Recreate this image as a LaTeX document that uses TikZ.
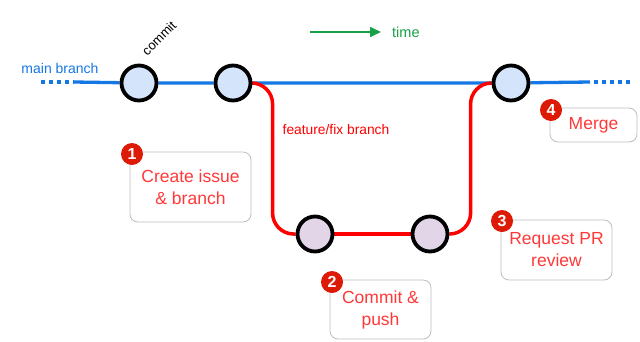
\documentclass[tikz,border=0pt]{standalone}
\usepackage{fontspec}
\setmainfont{Liberation Sans}
\usepackage{tikz}
\usetikzlibrary{arrows.meta,calc,positioning,backgrounds}
\definecolor{Main}{HTML}{1477E3}
\definecolor{Dot}{HTML}{D4E4FA}
\definecolor{Feat}{HTML}{E1D5E7}
\definecolor{Fix}{HTML}{FF0000}
\definecolor{Step}{HTML}{FF3838}
\definecolor{Badge}{HTML}{DD1A06}
\definecolor{Frame}{HTML}{BDBDBD}
\definecolor{Time}{HTML}{17A045}

\begin{document}
\begin{tikzpicture}[x=1pt,y=-1pt,
        c/.style={circle,minimum size=35pt,inner sep=0pt,line width=3.8pt,draw=black,fill=#1},
        c/.default=Dot,
        s/.style={draw=Frame,rounded corners=8pt,line width=0.8pt,align=center,text=Step,font=\fontsize{17.5}{22}\selectfont,inner sep=0pt},
        b/.style={circle,fill=Badge,text=white,minimum size=22pt,inner sep=0pt,font=\fontsize{16}{16}\selectfont\bfseries},
        m/.style={line width=3.3pt,draw=Main},
        f/.style={line width=3.5pt,draw=Fix,rounded corners=21pt}]
        \useasboundingbox (0,0) rectangle (640,341);
        % commits
        \node[c] (c1) at (139,83) {};
        \node[c] (c2) at (233,83) {};
        \node[c] (c3) at (511,83) {};
        \node[c=Feat] (f1) at (315,234) {};
        \node[c=Feat] (f2) at (430,234) {};
        \coordinate (l0) at (41,82);
        \coordinate (l1) at (74,82);
        \coordinate (r1) at (590,82);
        \coordinate (r0) at (634,82);
        \begin{pgfonlayer}{background}
          \draw[m,dash pattern=on 3.5pt off 4.5pt] (l0)--(l1);
          \draw[m] (l1)--(c1)--(c2)--(c3)--(r1);
          \draw[m,dash pattern=on 3.5pt off 4.5pt] ([xshift=4pt]r1)--(r0);
          \draw[f] (c2.east) -| ([xshift=-23pt]f1.west) -- (f1.west);
          \draw[f] (f1)--(f2);
          \draw[f] (f2.east) -| ([xshift=-21pt]c3.west) -- (c3.west);
        \end{pgfonlayer}
        % labels
        \node[text=Main,font=\fontsize{14}{14}\selectfont] (mb) at (60,68) {main branch};
        \node[rotate=45,font=\fontsize{13}{13}\selectfont] (cm) at (159,38) {commit};
        \node[text=Fix,font=\fontsize{13.8}{14}\selectfont] (fb) at (336,130) {feature/fix branch};
        \node[text=Time,font=\fontsize{14.5}{14.5}\selectfont,anchor=west,inner sep=0pt] (tm) at (392,32) {time};
        \coordinate (t0) at (310,32);
        \draw[draw=Time,line width=1.6pt,-{Triangle[length=11pt,width=10pt]},shorten >=11pt] (t0)--(tm.west);
        % steps
        \node[s,minimum width=121pt,minimum height=70pt] (s1) at (190.5,187) {Create issue\\\& branch};
        \node[s,minimum width=101pt,minimum height=59pt] (s2) at (380.5,309.5) {Commit \&\\push};
        \node[s,minimum width=111pt,minimum height=60pt] (s3) at (556.5,250) {Request PR\\review};
        \node[s,minimum width=87pt,minimum height=34pt] (s4) at (593.5,125) {Merge};
        \node[b] (b1) at (132,154) {1};
        \node[b] (b2) at (332,282) {2};
        \node[b] (b3) at (502,221) {3};
        \node[b] (b4) at (551,110) {4};
      \end{tikzpicture}
\end{document}
